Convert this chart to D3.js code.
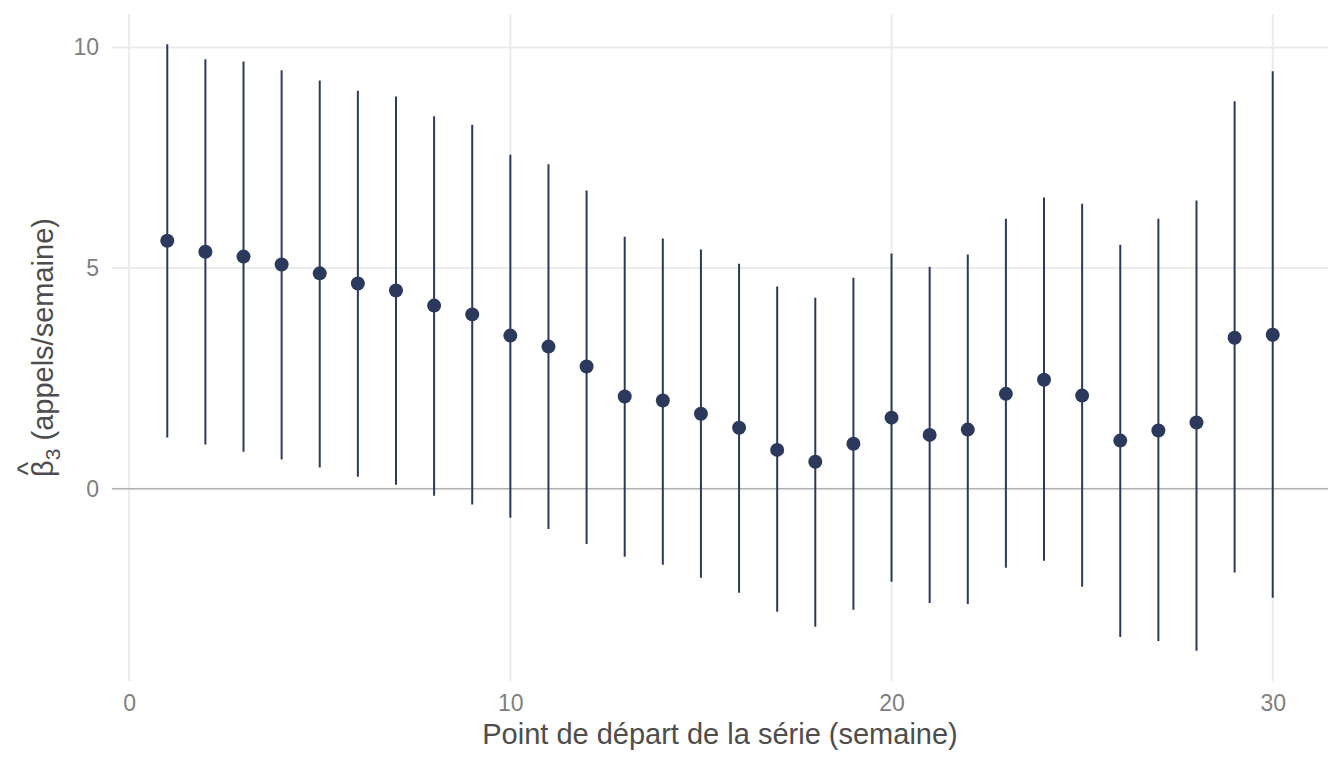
<!DOCTYPE html>
<html>
<head>
<meta charset="utf-8">
<script src="https://cdn.jsdelivr.net/npm/d3@7"></script>
<style>
  body { margin: 0; background: #fff; }
  svg text { font-family: "Liberation Sans", Arial, sans-serif; }
  .title { fill: #4d4d4d; font-size: 29px; }
</style>
</head>
<body>
<div id="chart"></div>
<script>
// start week of the series
var weeks = [1, 2, 3, 4, 5, 6, 7, 8, 9, 10, 11, 12, 13, 14, 15,
             16, 17, 18, 19, 20, 21, 22, 23, 24, 25, 26, 27, 28, 29, 30];
// beta3 estimate
var estimate = [5.62, 5.37, 5.26, 5.08, 4.88, 4.65, 4.49, 4.15, 3.95, 3.47,
                3.22, 2.77, 2.09, 2.00, 1.70, 1.38, 0.88, 0.61, 1.02, 1.61,
                1.22, 1.34, 2.15, 2.47, 2.11, 1.09, 1.32, 1.50, 3.42, 3.49];
// confidence interval
var lower = [1.16, 1.00, 0.84, 0.66, 0.48, 0.27, 0.09, -0.16, -0.36, -0.66,
             -0.91, -1.25, -1.54, -1.72, -2.02, -2.36, -2.79, -3.13, -2.74, -2.11,
             -2.59, -2.61, -1.79, -1.63, -2.22, -3.36, -3.45, -3.67, -1.90, -2.47];
var upper = [10.07, 9.73, 9.68, 9.48, 9.25, 9.02, 8.89, 8.44, 8.25, 7.57,
             7.35, 6.76, 5.71, 5.67, 5.42, 5.10, 4.58, 4.33, 4.78, 5.33,
             5.03, 5.31, 6.12, 6.60, 6.46, 5.53, 6.12, 6.53, 8.78, 9.46];
var xTicks = [0, 10, 20, 30];
var yTicks = [0, 5, 10];

(function () {
  var width = 1344, height = 768;
  var m = { left: 112, right: 1328, top: 14, bottom: 681 };
  var color = "#2b3a5c";

  var svg = d3.select("#chart").append("svg")
      .attr("width", width)
      .attr("height", height);

  // ggplot-like 5% expansion
  var xMin = d3.min(weeks), xMax = d3.max(weeks);
  var yMin = d3.min(lower), yMax = d3.max(upper);
  var xPad = (xMax - xMin) * 0.05, yPad = (yMax - yMin) * 0.05;

  var x = d3.scaleLinear().domain([xMin - xPad, xMax + xPad]).range([m.left, m.right]);
  var y = d3.scaleLinear().domain([yMin - yPad, yMax + yPad]).range([m.bottom, m.top]);

  // grid
  svg.append("g").selectAll("line").data(xTicks).join("line")
      .attr("x1", d => x(d)).attr("x2", d => x(d))
      .attr("y1", m.top).attr("y2", m.bottom)
      .attr("stroke", "#ebebeb").attr("stroke-width", 2);
  svg.append("g").selectAll("line").data(yTicks).join("line")
      .attr("x1", m.left).attr("x2", m.right)
      .attr("y1", d => y(d)).attr("y2", d => y(d))
      .attr("stroke", "#ebebeb").attr("stroke-width", 2);

  // zero reference line
  svg.append("line")
      .attr("x1", m.left).attr("x2", m.right)
      .attr("y1", y(0)).attr("y2", y(0))
      .attr("stroke", "#b3b3b3").attr("stroke-width", 1.5);

  // axes (labels only)
  var xAxis = svg.append("g")
      .attr("transform", "translate(0," + m.bottom + ")")
      .call(d3.axisBottom(x).tickValues(xTicks).tickSize(0).tickPadding(14));
  xAxis.select(".domain").remove();

  var yAxis = svg.append("g")
      .attr("transform", "translate(" + m.left + ",0)")
      .call(d3.axisLeft(y).tickValues(yTicks).tickSize(0).tickPadding(13));
  yAxis.select(".domain").remove();

  svg.selectAll(".tick text")
      .attr("fill", "#7f7f7f")
      .attr("font-size", 23)
      .attr("font-family", "Liberation Sans, Arial, sans-serif");

  // error bars
  svg.append("g").selectAll("line").data(weeks).join("line")
      .attr("x1", d => x(d)).attr("x2", d => x(d))
      .attr("y1", (d, i) => y(lower[i])).attr("y2", (d, i) => y(upper[i]))
      .attr("stroke", color).attr("stroke-width", 2);

  // points
  svg.append("g").selectAll("circle").data(weeks).join("circle")
      .attr("cx", d => x(d))
      .attr("cy", (d, i) => y(estimate[i]))
      .attr("r", 7)
      .attr("fill", color);

  // titles
  svg.append("text")
      .attr("class", "title")
      .attr("x", (m.left + m.right) / 2)
      .attr("y", 744)
      .attr("text-anchor", "middle")
      .text("Point de départ de la série (semaine)");

  var yg = svg.append("g")
      .attr("transform", "translate(53," + ((m.top + m.bottom) / 2) + ") rotate(-90)");
  var yt = yg.append("text")
      .attr("class", "title")
      .attr("text-anchor", "middle");
  var beta = yt.append("tspan").text("β");
  yt.append("tspan").attr("font-size", "21px").attr("dy", 7).text("3");
  yt.append("tspan").attr("dy", -7).text(" (appels/semaine)");

  // hat over beta
  var total = yt.node().getComputedTextLength();
  var bw = beta.node().getComputedTextLength();
  yg.append("text")
      .attr("class", "title")
      .attr("font-size", "24px")
      .attr("text-anchor", "middle")
      .attr("x", -total / 2 + bw / 2)
      .attr("y", -15)
      .text("^");
})();
</script>
</body>
</html>
